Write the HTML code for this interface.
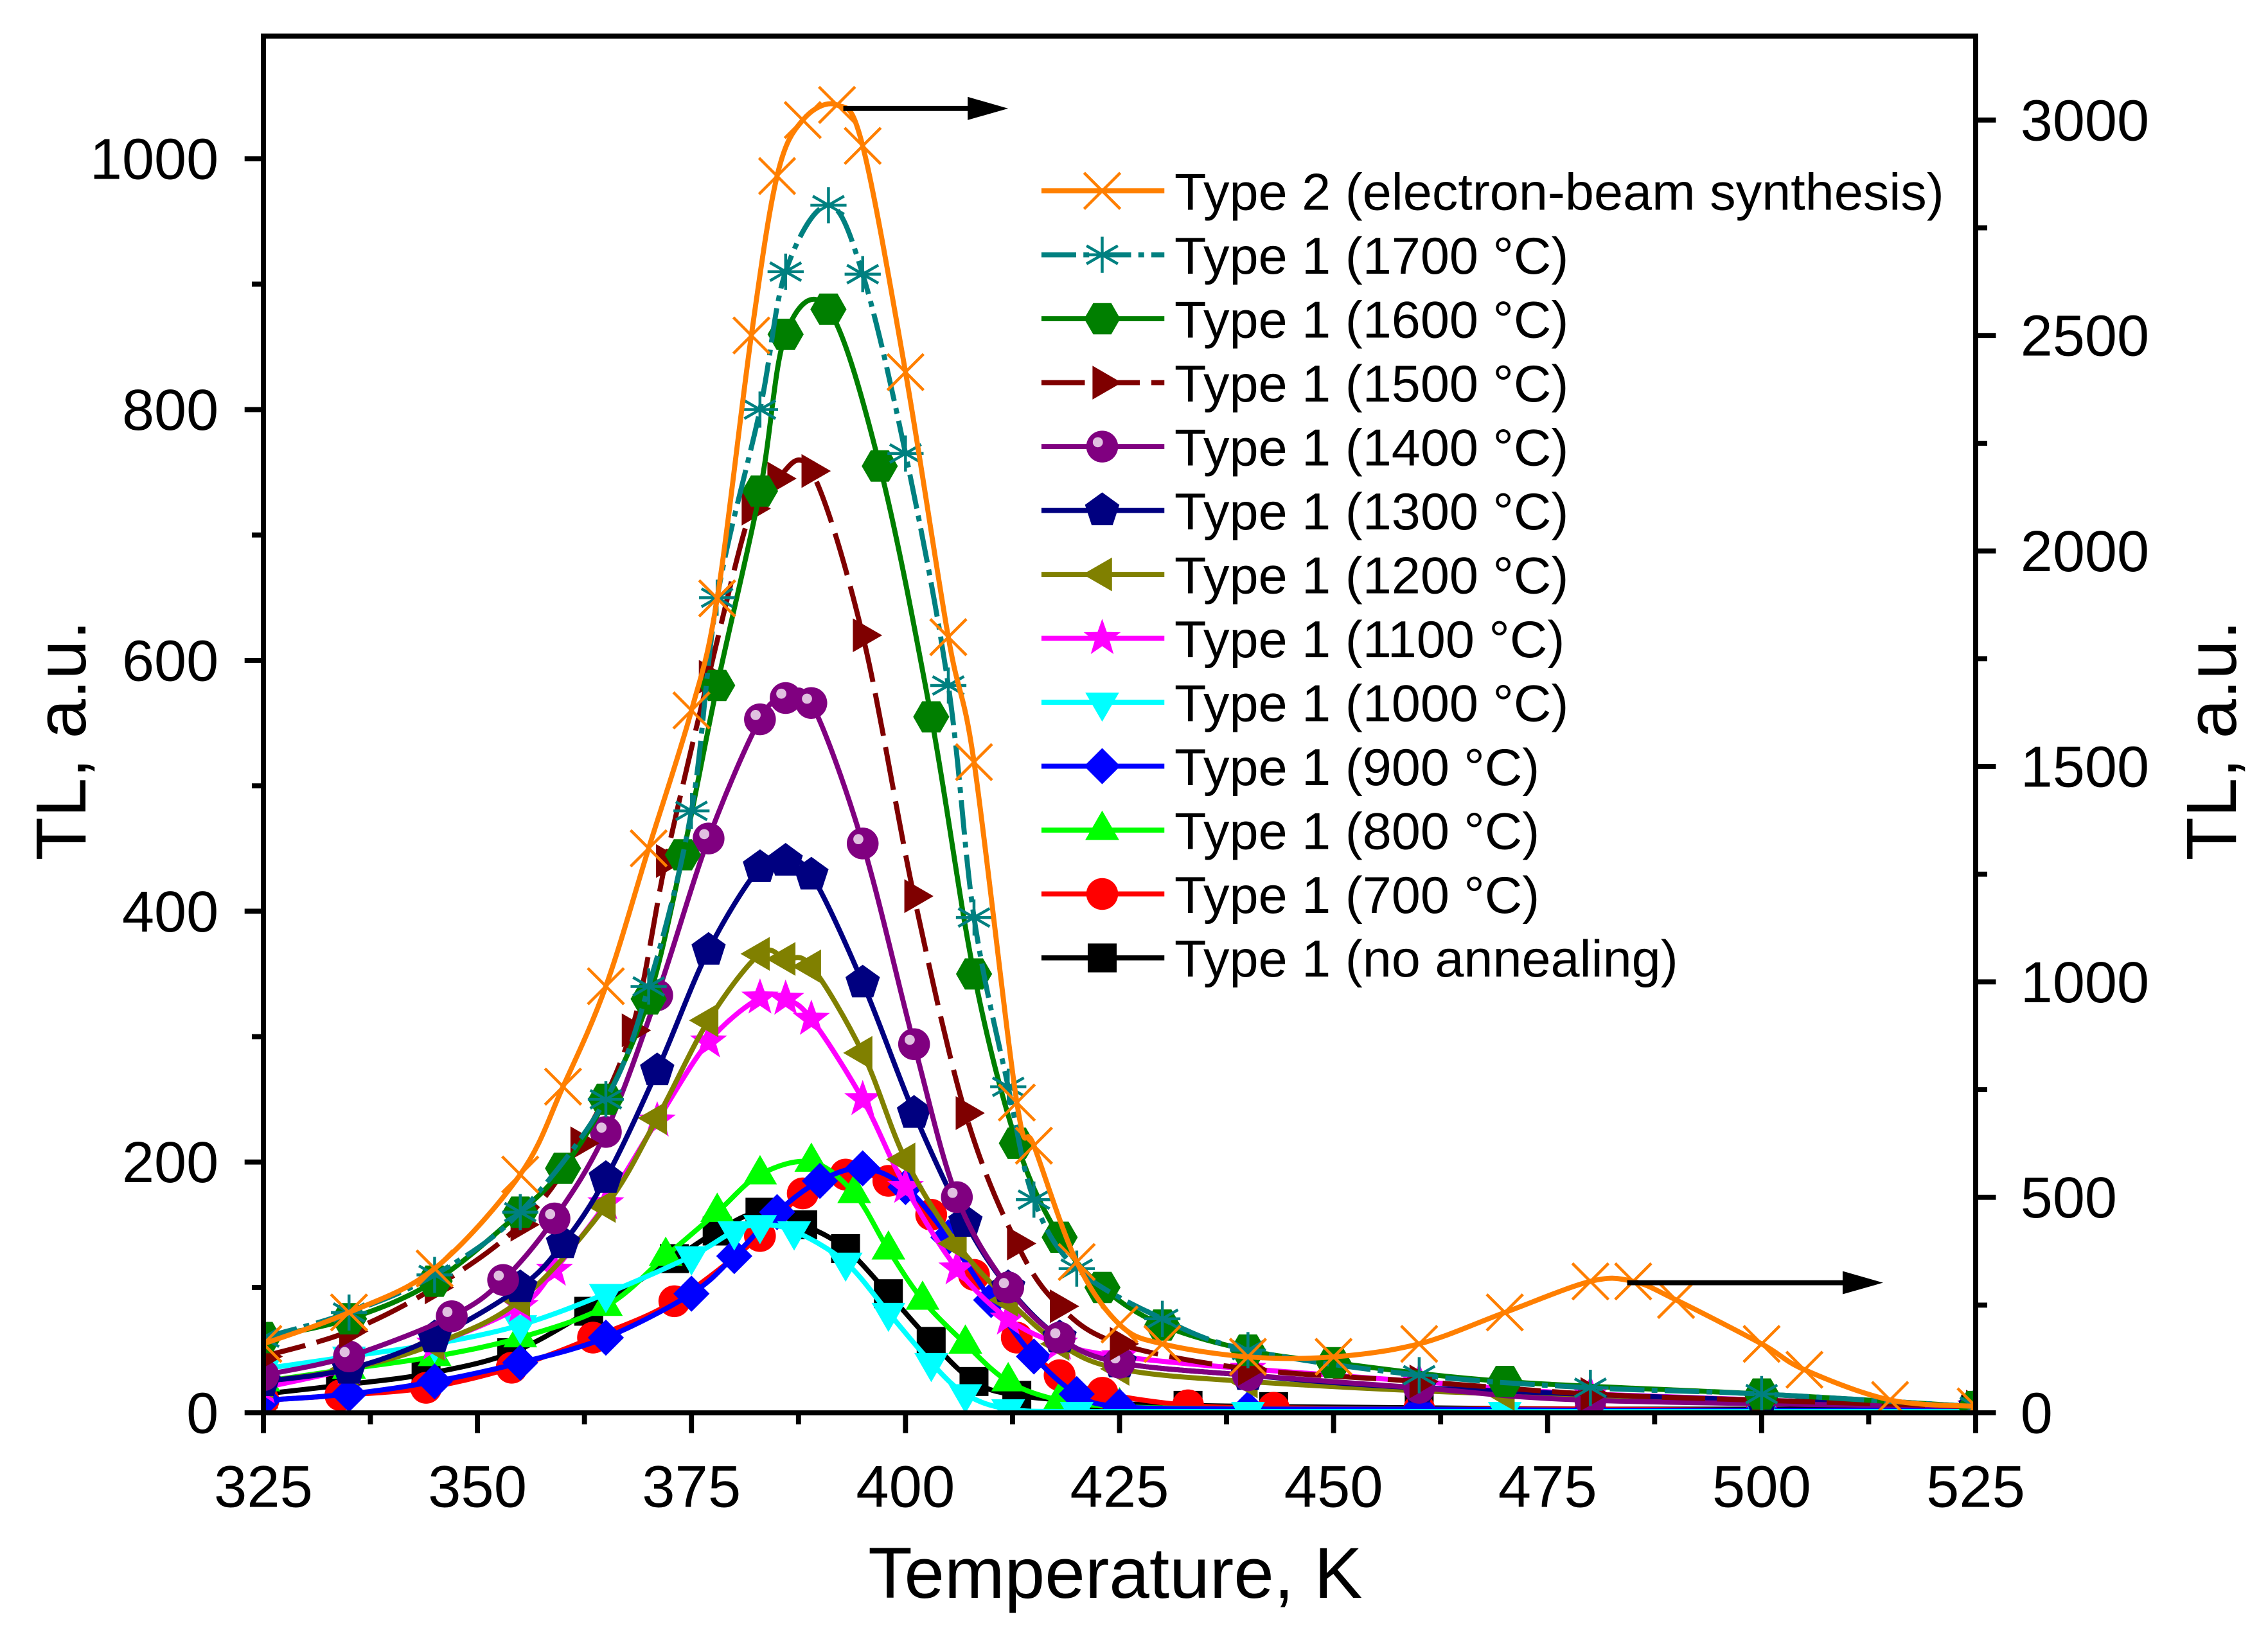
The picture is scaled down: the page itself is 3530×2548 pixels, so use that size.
<!DOCTYPE html>
<html><head><meta charset="utf-8"><style>
html,body{margin:0;padding:0;background:#fff;}
svg{display:block;font-family:"Liberation Sans",Arial,sans-serif;}
</style></head><body>
<svg id="chart" width="3530" height="2548" viewBox="0 0 1568 1132" xmlns="http://www.w3.org/2000/svg">
<rect x="0" y="0" width="1568" height="1132" fill="#fff"/>
<g id="plot"></g>
<g id="axes"></g>
<g id="legend"></g>
</svg>
<script>
const xTicks=[325,350,375,400,425,450,475,500,525];
const yLeftTicks=[0,200,400,600,800,1000];
const yRightTicks=[0,500,1000,1500,2000,2500,3000];
const seriesNames=["Type 2 (electron-beam synthesis)","Type 1 (1700 °C)","Type 1 (1600 °C)","Type 1 (1500 °C)","Type 1 (1400 °C)","Type 1 (1300 °C)","Type 1 (1200 °C)","Type 1 (1100 °C)","Type 1 (1000 °C)","Type 1 (900 °C)","Type 1 (800 °C)","Type 1 (700 °C)","Type 1 (no annealing)"];
const t2T=[325,335,345,355,360,365,370,375,378,382,385,388,392,395,400,405,408,413,415,420,425,430,440,450,460,470,480,485,490,500,505,515,525];
const t2V=[160,233,335,553,757,990,1310,1630,1890,2500,2870,3000,3035,2940,2415,1800,1510,720,620,350,205,160,130,130,160,233,305,305,262,160,100,30,15];
const s1700T=[325,335,345,355,365,370,375,378,383,386,391,395,400,405,408,412,415,420,430,440,460,480,500,525];
const s1700V=[60,80,110,160,250,340,480,650,800,910,963,908,765,580,395,260,170,115,75,50,30,20,15,5];
const s1600T=[325,335,345,355,360,365,370,374,378,383,386,391,397,403,408,413,418,423,430,440,450,470,500,525];
const s1600V=[60,75,105,160,195,250,330,445,580,735,860,880,755,555,350,215,140,100,70,50,40,25,15,5];
const s1500T=[325,335,345,355,362,368,372,377,382,385,389,395,401,407,413,418,425,440,460,480,500,525];
const s1500V=[45,65,100,150,215,305,440,587,721,745,751,620,412,239,135,85,55,35,25,15,10,5];
const s1400T=[325,335,347,353,359,365,371,377,383,386,389,395,401,406,412,418,425,440,460,480,525];
const s1400V=[30,45,77,106,155,224,333,458,553,570,566,454,294,172,100,60,40,30,20,10,5];
const s1300T=[325,335,345,355,360,365,371,377,383,386,389,395,401,407,412,418,425,440,460,500,525];
const s1300V=[25,35,60,100,135,187,273,369,435,440,429,343,239,152,100,60,40,30,20,10,5];
const s1200T=[325,335,345,355,365,371,377,383,386,389,395,400,406,412,418,425,440,470,525];
const s1200V=[25,35,55,90,165,235,313,366,362,356,287,202,135,90,55,35,25,15,5];
const s1100T=[325,335,345,355,359,365,371,377,383,386,389,395,400,406,412,418,425,440,460,480,525];
const s1100V=[20,35,55,85,114,167,233,296,331,330,314,250,180,115,75,55,45,35,25,15,5];
const s1000T=[325,335,345,355,365,375,380,383,387,393,398,403,407,412,420,440,470,500,525];
const s1000V=[35,45,55,70,95,125,145,150,145,120,80,40,15,3,1,1,1,1,1];
const s900T=[325,335,345,355,365,375,380,385,390,395,400,405,410,415,420,425,440,460,480,500,525];
const s900V=[10,15,25,40,60,95,125,160,185,195,180,140,90,45,15,5,3,3,2,2,2];
const s800T=[325,335,345,355,365,372,378,383,389,394,398,402,407,412,418,425,440,460,480,500,525];
const s800V=[25,35,45,60,85,125,160,190,200,175,130,90,55,25,10,5,3,3,2,2,2];
const s700T=[325,334,344,354,363.5,373,383,388,393,398,403,408,413,418,423,433,443,460,480,500,525];
const s700V=[10,14,20,36,60,89,141,175,190,185,158,110,60,30,16,6,4,3,3,2,2];
const s0T=[325,334,344,354,363,373,378,383,388,393,398,403,408,413,423,433,443,460,480,500,525];
const s0V=[15,22,31,48,81,123,145,160,150,131,95,57,25,14,8,6,5,4,3,3,3];

const X0=182,X1=1366,YB=977,YT=25;
function xS(t){return X0+(t-325)/200*(X1-X0);}
function yL(v){return YB-v*0.8672;}
function yR(v){return YB-v*0.2980;}
const NS="http://www.w3.org/2000/svg";
function mk(tag,attrs,parent){const e=document.createElementNS(NS,tag);for(const k in attrs)e.setAttribute(k,attrs[k]);if(parent)parent.appendChild(e);return e;}

const series=[
 {T:t2T,V:t2V,c:"#ff7f00",m:"x",ax:"R",d:""},
 {T:s1700T,V:s1700V,c:"#008080",m:"star6",ax:"L",d:"24 5 4 5"},
 {T:s1600T,V:s1600V,c:"#007f00",m:"hex",ax:"L",d:""},
 {T:s1500T,V:s1500V,c:"#7f0000",m:"tri-r",ax:"L",d:"30 8"},
 {T:s1400T,V:s1400V,c:"#800080",m:"sphere",ax:"L",d:""},
 {T:s1300T,V:s1300V,c:"#000080",m:"pent",ax:"L",d:""},
 {T:s1200T,V:s1200V,c:"#808000",m:"tri-l",ax:"L",d:""},
 {T:s1100T,V:s1100V,c:"#ff00ff",m:"star5",ax:"L",d:""},
 {T:s1000T,V:s1000V,c:"#00ffff",m:"tri-d",ax:"L",d:""},
 {T:s900T,V:s900V,c:"#0000ff",m:"diamond",ax:"L",d:""},
 {T:s800T,V:s800V,c:"#00ff00",m:"tri-u",ax:"L",d:""},
 {T:s700T,V:s700V,c:"#ff0000",m:"circle",ax:"L",d:""},
 {T:s0T,V:s0V,c:"#000000",m:"square",ax:"L",d:""}
];

function smooth(pts){
 let d="M"+pts[0][0].toFixed(1)+","+pts[0][1].toFixed(1);
 for(let i=0;i<pts.length-1;i++){
  const p0=pts[i-1]||pts[i],p1=pts[i],p2=pts[i+1],p3=pts[i+2]||p2;
  const c1=[p1[0]+(p2[0]-p0[0])/6,p1[1]+(p2[1]-p0[1])/6];
  const c2=[p2[0]-(p3[0]-p1[0])/6,p2[1]-(p3[1]-p1[1])/6];
  d+=" C"+c1[0].toFixed(1)+","+c1[1].toFixed(1)+" "+c2[0].toFixed(1)+","+c2[1].toFixed(1)+" "+p2[0].toFixed(1)+","+p2[1].toFixed(1);
 }
 return d;
}
function polyPts(cx,cy,r,n,rot){let s=[];for(let i=0;i<n;i++){const a=rot+i*2*Math.PI/n;s.push((cx+r*Math.cos(a)).toFixed(1)+","+(cy+r*Math.sin(a)).toFixed(1));}return s.join(" ");}
function starPts(cx,cy,r,r2,n){let s=[];for(let i=0;i<2*n;i++){const a=-Math.PI/2+i*Math.PI/n;const rr=i%2?r2:r;s.push((cx+rr*Math.cos(a)).toFixed(1)+","+(cy+rr*Math.sin(a)).toFixed(1));}return s.join(" ");}
function marker(type,cx,cy,c,g){
 const r=12.5;
 if(type==="x"){mk("path",{d:`M${cx-r},${cy-r}L${cx+r},${cy+r}M${cx-r},${cy+r}L${cx+r},${cy-r}`,stroke:c,"stroke-width":2,fill:"none"},g);}
 else if(type==="star6"){let d="";for(let i=0;i<3;i++){const a=Math.PI/2+i*Math.PI/3;d+=`M${cx-r*Math.cos(a)},${cy-r*Math.sin(a)}L${cx+r*Math.cos(a)},${cy+r*Math.sin(a)}`;}d+=`M${cx-r},${cy}L${cx+r},${cy}`;mk("path",{d:d,stroke:c,"stroke-width":2,fill:"none"},g);}
 else if(type==="hex")mk("polygon",{points:polyPts(cx,cy,r,6,0),fill:c},g);
 else if(type==="pent")mk("polygon",{points:polyPts(cx,cy,r,5,-Math.PI/2),fill:c},g);
 else if(type==="tri-r")mk("polygon",{points:polyPts(cx,cy,r+1,3,0),fill:c},g);
 else if(type==="tri-l")mk("polygon",{points:polyPts(cx,cy,r+1,3,Math.PI),fill:c},g);
 else if(type==="tri-u")mk("polygon",{points:polyPts(cx,cy,r+1,3,-Math.PI/2),fill:c},g);
 else if(type==="tri-d")mk("polygon",{points:polyPts(cx,cy,r+1,3,Math.PI/2),fill:c},g);
 else if(type==="diamond")mk("polygon",{points:polyPts(cx,cy,r,4,0),fill:c},g);
 else if(type==="star5")mk("polygon",{points:starPts(cx,cy,r+1,5.5,5),fill:c},g);
 else if(type==="circle")mk("circle",{cx:cx,cy:cy,r:r-1.5,fill:c},g);
 else if(type==="sphere"){mk("circle",{cx:cx,cy:cy,r:r-1.5,fill:c},g);mk("circle",{cx:cx-3,cy:cy-3,r:3.5,fill:"#e0c0e0"},g);}
 else if(type==="square")mk("rect",{x:cx-10,y:cy-10,width:20,height:20,fill:c},g);
}

const plot=document.getElementById("plot");
mk("clipPath",{id:"clip"},plot);
mk("rect",{x:X0,y:YT,width:X1-X0,height:YB-YT},document.getElementById("clip"));
const pg=mk("g",{"clip-path":"url(#clip)"},plot);
for(let si=series.length-1;si>=0;si--){
 const s=series[si];
 const yf=s.ax==="R"?yR:yL;
 const g=mk("g",{},pg);
 
 
 const pts=s.T.map((t,i)=>[xS(t),yf(s.V[i])]);
 const p=mk("path",{d:smooth(pts),fill:"none",stroke:s.c,"stroke-width":3.5},g);
 if(s.d)p.setAttribute("stroke-dasharray",s.d);
 pts.forEach(q=>marker(s.m,q[0],q[1],s.c,g));
}

const ax=document.getElementById("axes");
mk("rect",{x:X0,y:YT,width:X1-X0,height:YB-YT,fill:"none",stroke:"#000","stroke-width":3.5},ax);
xTicks.forEach((t,i)=>{
 const x=xS(t);
 mk("line",{x1:x,y1:YB,x2:x,y2:YB+14,stroke:"#000","stroke-width":3.5},ax);
 if(i<xTicks.length-1){const xm=xS(t+12.5);mk("line",{x1:xm,y1:YB,x2:xm,y2:YB+8,stroke:"#000","stroke-width":3.5},ax);}
 const tx=mk("text",{x:x,y:1042,"font-size":41,"text-anchor":"middle"},ax);
 tx.textContent=t;
 
 
});
yLeftTicks.forEach(v=>{
 const y=yL(v);
 mk("line",{x1:X0-13,y1:y,x2:X0,y2:y,stroke:"#000","stroke-width":3.5},ax);
 const ym=yL(v+100);if(ym>YT)mk("line",{x1:X0-8,y1:ym,x2:X0,y2:ym,stroke:"#000","stroke-width":3.5},ax);
 const tx=mk("text",{x:151,y:y+14,"font-size":40,"text-anchor":"end"},ax);
 tx.textContent=v;
 
 
});
yRightTicks.forEach(v=>{
 const y=yR(v);
 mk("line",{x1:X1,y1:y,x2:X1+14,y2:y,stroke:"#000","stroke-width":3.5},ax);
 const ym=yR(v+250);if(ym>YT)mk("line",{x1:X1,y1:ym,x2:X1+8,y2:ym,stroke:"#000","stroke-width":3.5},ax);
 const tx=mk("text",{x:1397,y:y+14,"font-size":40,"text-anchor":"start"},ax);
 tx.textContent=v;
 
 
});
function arrow(x1,x2,y,name){const g=mk("g",{},ax);
 mk("line",{x1:x1,y1:y,x2:x2-20,y2:y,stroke:"#000","stroke-width":3.5},g);
 mk("polygon",{points:`${x2},${y} ${x2-28},${y-8} ${x2-28},${y+8}`,fill:"#000"},g);}
arrow(583,697,75,"right-axis-arrow-top");
arrow(1125,1302,887,"right-axis-arrow-bottom");
</script>
<script>
(function(){
 const svg=document.getElementById("chart"),NS="http://www.w3.org/2000/svg";
 const t=document.createElementNS(NS,"text");
 t.setAttribute("x",771);t.setAttribute("y",1105);t.setAttribute("font-size",50);t.setAttribute("text-anchor","middle");
 t.textContent="Temperature, K";
 
 
 svg.appendChild(t);
 const l=document.createElementNS(NS,"text");
 l.setAttribute("transform","translate(59,512) rotate(-90)");l.setAttribute("font-size",49);l.setAttribute("text-anchor","middle");
 l.textContent="TL, a.u.";
 
 
 svg.appendChild(l);
 const r=document.createElementNS(NS,"text");
 r.setAttribute("transform","translate(1546,512) rotate(-90)");r.setAttribute("font-size",49);r.setAttribute("text-anchor","middle");
 r.textContent="TL, a.u.";
 
 
 svg.appendChild(r);
 const lg=document.getElementById("legend");
 series.forEach((s,i)=>{
  const y=132+i*44.2;
  const g=document.createElementNS(NS,"g");
  
  
  lg.appendChild(g);
  const ln=mk("line",{x1:720,y1:y,x2:805,y2:y,stroke:s.c,"stroke-width":3.5},g);
  if(s.d)ln.setAttribute("stroke-dasharray",s.d);
  marker(s.m,762,y,s.c,g);
  const tx=mk("text",{x:812,y:y+13,"font-size":36},g);
  tx.textContent=seriesNames[i];
 });
})();
</script>
</body></html>
